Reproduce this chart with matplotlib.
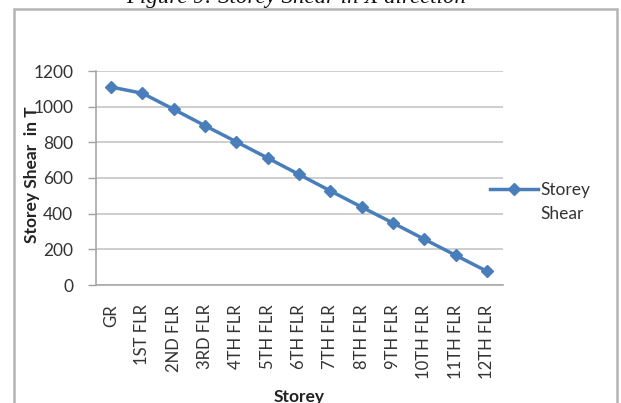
import matplotlib
matplotlib.use("Agg")
import matplotlib.pyplot as plt
from matplotlib.patches import Rectangle

storeys = ["GR", "1ST FLR", "2ND FLR", "3RD FLR", "4TH FLR", "5TH FLR",
           "6TH FLR", "7TH FLR", "8TH FLR", "9TH FLR", "10TH FLR",
           "11TH FLR", "12TH FLR"]
shear = [1110, 1075, 985, 893, 803, 712, 620, 528, 437, 348, 257, 167, 77]
y_ticks = [0, 200, 400, 600, 800, 1000, 1200]

W, H = 621, 403
blue = "#4A7EBB"
grid_grey = "#C6C6C6"
font = "Lato"

fig = plt.figure(figsize=(W / 100, H / 100), dpi=100)

# caption of the figure, mostly above the page edge
fig.text(296 / W, 1 - 3 / H, "Figure 9: Storey Shear in X direction",
         ha="center", va="baseline", fontsize=16.5, style="italic",
         family="Liberation Serif", color="#111111")

# chart border
fig.patches.append(Rectangle((14 / W, -0.05), 603 / W, 1.05 - 9 / H,
                             transform=fig.transFigure, fill=False,
                             edgecolor="#B4B4B4", linewidth=1.8))

ax = fig.add_axes([95.5 / W, 118 / H, 407 / W, 214 / H])
x = list(range(len(storeys)))
ax.plot(x, shear, color=blue, linewidth=2.5, marker="D", markersize=6.5,
        markeredgecolor=blue, label="Storey", zorder=3)

ax.set_xlim(-0.5, len(storeys) - 0.5)
ax.set_ylim(0, 1200)
ax.set_yticks(y_ticks)
ax.set_yticklabels([str(v) for v in y_ticks], family=font, fontsize=12.5,
                   color="#333333")
ax.set_xticks(x)
ax.set_xticklabels(storeys, rotation=90, family=font, fontsize=12,
                   color="#333333")
ax.tick_params(axis="y", length=6, width=1, color="#A0A0A0", pad=10)
ax.tick_params(axis="x", length=0, pad=14)

ax.grid(axis="y", color=grid_grey, linewidth=1.2)
ax.set_axisbelow(True)
for side in ["top", "right"]:
    ax.spines[side].set_visible(False)
for side in ["left", "bottom"]:
    ax.spines[side].set_color("#A8A8A8")
    ax.spines[side].set_linewidth(1.2)

ax.set_xlabel("Storey", family=font, fontsize=12.5, fontweight="bold",
              color="#222222")
ax.xaxis.set_label_coords(0.5, -0.485)
# the axis title sits over the tick labels
ax.set_ylabel("Storey Shear  in T", family=font, fontsize=12.5,
              fontweight="bold", color="#222222")
ax.yaxis.set_label_coords(-0.137, 0.515)

leg = ax.legend(loc="center left", bbox_to_anchor=(490 / W, 1 - 190 / H),
                bbox_transform=fig.transFigure, frameon=False,
                borderpad=0, borderaxespad=0, handlelength=2.75,
                handletextpad=0.15, prop={"family": font, "size": 12.5})
for t in leg.get_texts():
    t.set_color("#333333")
fig.text(540 / W, 1 - 214 / H, "Shear", ha="left", va="center",
         family=font, fontsize=12.5, color="#333333")

fig.savefig("out.png", dpi=100)
